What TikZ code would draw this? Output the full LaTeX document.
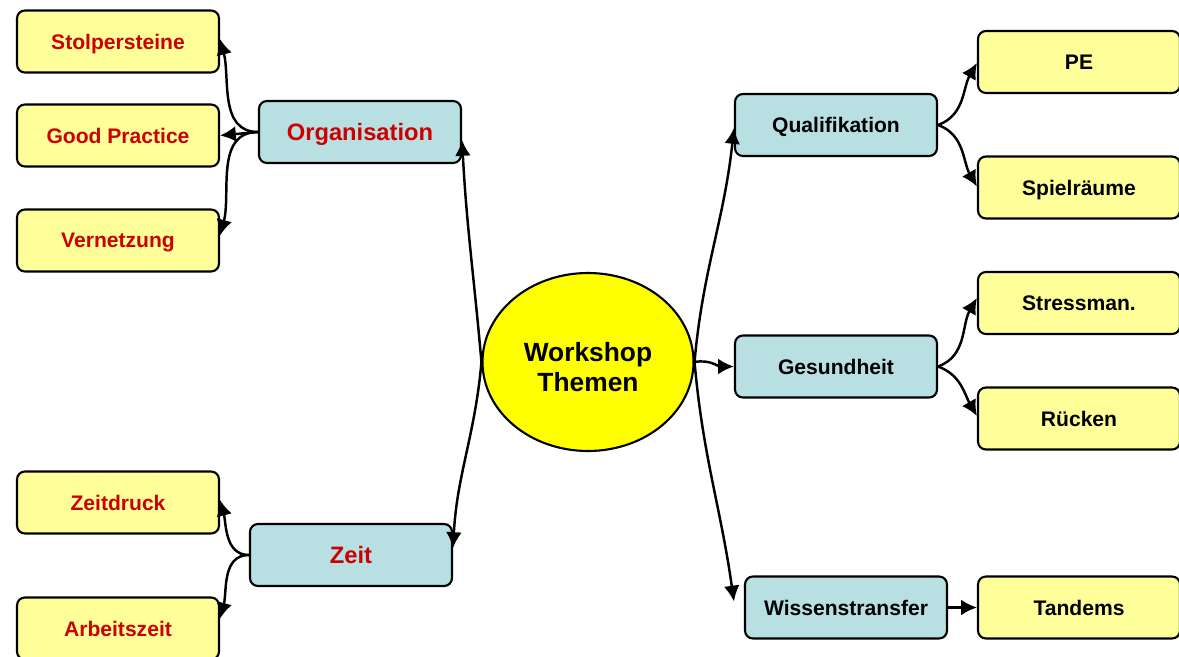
\documentclass[tikz,border=0pt]{standalone}
\usepackage{fontspec}
\setmainfont{Liberation Sans}
\usetikzlibrary{arrows.meta,shapes.geometric}

\definecolor{subyellow}{HTML}{FFFF99}
\definecolor{topicblue}{HTML}{B8DFE2}
\definecolor{darkred}{HTML}{CC0000}
\definecolor{hubyellow}{HTML}{FFFF00}

\tikzset{
	box/.style={draw=black, line width=1.2pt, rounded corners=4.5pt, minimum width=4.04cm, minimum height=1.24cm, inner sep=0pt, text depth=0pt, font=\fontsize{12}{14}\selectfont\bfseries},
	subbox/.style={box, fill=subyellow},
	topicbox/.style={box, fill=topicblue},
	redtext/.style={text=darkred},
	link/.style={line width=1.4pt, -{Latex[length=9pt,width=9pt]}}
}

\begin{document}
\begin{tikzpicture}
			%%%%% START %%%%%
			
			\useasboundingbox (0, 0) rectangle (23.58, -13.14);
			
			\node[ellipse, draw=black, line width=1.2pt, fill=hubyellow, minimum width=4.22cm, minimum height=3.56cm, inner sep=0pt, align=center, font=\fontsize{15}{17.5}\selectfont\bfseries] (ws) at (11.76, -7.24) {};
			\node[align=center, font=\fontsize{15}{17.5}\selectfont\bfseries] (wstext) at ([yshift=-0.1cm]ws.center) {Workshop\\Themen};
			
			\node[topicbox, redtext, font=\fontsize{13.5}{15}\selectfont\bfseries] (org) at (7.2, -2.64) {Organisation};
			\node[topicbox, redtext, font=\fontsize{13.5}{15}\selectfont\bfseries] (zeit) at (7.02, -11.1) {Zeit};
			\node[topicbox] (qual) at (16.72, -2.5) {Qualifikation};
			\node[topicbox] (ges) at (16.72, -7.33) {Gesundheit};
			\node[topicbox] (wt) at (16.92, -12.15) {Wissenstransfer};
			
			\node[subbox, redtext] (stolp) at (2.36, -0.83) {Stolpersteine};
			\node[subbox, redtext] (good) at (2.36, -2.71) {Good Practice};
			\node[subbox, redtext] (vern) at (2.36, -4.81) {Vernetzung};
			\node[subbox, redtext] (zdruck) at (2.36, -10.05) {Zeitdruck};
			\node[subbox, redtext] (azeit) at (2.36, -12.57) {Arbeitszeit};
			
			\node[subbox] (pe) at (21.58, -1.24) {PE};
			\node[subbox] (spiel) at (21.58, -3.75) {Spielräume};
			\node[subbox] (stress) at (21.58, -6.06) {Stressman.};
			\node[subbox] (ruck) at (21.58, -8.37) {Rücken};
			\node[subbox] (tand) at (21.58, -12.15) {Tandems};
			
			% from the centre
			\draw[link] (ws.west) to[out=95, in=-87] ([yshift=-0.16cm]org.east);
			\draw[link] (ws.west) to[out=-95, in=87] ([yshift=0.14cm]zeit.east);
			\draw[link] (ws.east) to[out=85, in=-96] ([yshift=-0.06cm]qual.west);
			\draw[link] (ws.east) to[out=10, in=180] (ges.west);
			\draw[link] (ws.east) to[out=-85, in=98] ([xshift=-0.2cm, yshift=0.12cm]wt.west);
			
			% left side
			\draw[link] (org.west) to[out=180, in=-75] ([yshift=0.05cm]stolp.east);
			\draw[link] (org.west) -- (good.east);
			\draw[link] (org.west) to[out=180, in=75] ([yshift=0.1cm]vern.east);
			\draw[link] (zeit.west) to[out=180, in=-75] ([yshift=0.05cm]zdruck.east);
			\draw[link] (zeit.west) to[out=180, in=75] ([yshift=0.2cm]azeit.east);
			
			% right side
			\draw[link] (qual.east) to[out=20, in=-120] ([yshift=-0.02cm]pe.west);
			\draw[link] (qual.east) to[out=-20, in=120] ([yshift=0.02cm]spiel.west);
			\draw[link] (ges.east) to[out=20, in=-120] ([yshift=0.1cm]stress.west);
			\draw[link] (ges.east) to[out=-20, in=120] ([yshift=0.05cm]ruck.west);
			\draw[link] (wt.east) -- (tand.west);
			
			%%%%% END %%%%%
		\end{tikzpicture}
\end{document}
